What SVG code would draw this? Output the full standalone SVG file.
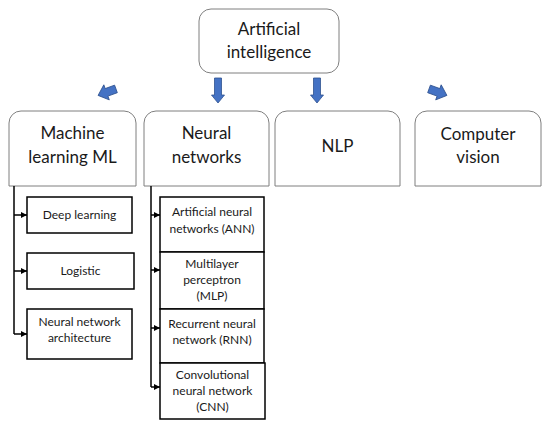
<svg xmlns="http://www.w3.org/2000/svg" width="550" height="426" viewBox="0 0 550 426">
<defs>
<style>
.top{fill:#fff;stroke:#7f7f7f;stroke-width:1}
.sub{fill:#fff;stroke:#000;stroke-width:1.5}
.t1{font-family:Lato,"Liberation Sans",sans-serif;font-size:17px;fill:#1a1a1a;text-anchor:middle}
.t2{font-family:Lato,"Liberation Sans",sans-serif;font-size:12px;fill:#1a1a1a;text-anchor:middle}
.blue{fill:#4472c4;stroke:#2f528f;stroke-width:0.8}
.ln{fill:none;stroke:#000;stroke-width:1.5}
</style>
<marker id="ah" markerWidth="6" markerHeight="6" refX="6" refY="3" orient="auto" markerUnits="userSpaceOnUse">
<path d="M0,0 L6,3 L0,6 Z" fill="#000"/>
</marker>
</defs>
<rect width="550" height="426" fill="#fff"/>

<g id="ai">
<rect class="top" x="199" y="9" width="140" height="64" rx="12"/>
<text class="t1" x="269" y="35">Artificial</text>
<text class="t1" x="269" y="58">intelligence</text>
</g>

<g id="arrows-blue">
<path class="blue" transform="translate(107.5,92) rotate(-20)" d="M-10,0 L-1,-8 L-1,-4 L9,-4 L9,4 L-1,4 L-1,8 Z"/>
<path class="blue" d="M214.5,78 H221.5 V95 H224.5 L218,103 L211.5,95 H214.5 Z"/>
<path class="blue" d="M313.5,78 H320.5 V95 H323.5 L317,103 L310.5,95 H313.5 Z"/>
<path class="blue" transform="translate(437.5,92) rotate(20)" d="M10,0 L1,-8 L1,-4 L-9,-4 L-9,4 L1,4 L1,8 Z"/>
</g>

<g id="ml">
<path class="top" d="M9,186 V123 A12,12 0 0 1 21,111 H124 A12,12 0 0 1 136,123 V186 Z"/>
<text class="t1" x="72.5" y="139">Machine</text>
<text class="t1" x="72.5" y="163">learning ML</text>
</g>
<g id="nn">
<path class="top" d="M144,186 V123 A12,12 0 0 1 156,111 H257 A12,12 0 0 1 269,123 V186 Z"/>
<text class="t1" x="206.5" y="139">Neural</text>
<text class="t1" x="206.5" y="163">networks</text>
</g>
<g id="nlp">
<path class="top" d="M275,186 V123 A12,12 0 0 1 287,111 H388 A12,12 0 0 1 400,123 V186 Z"/>
<text class="t1" x="337.5" y="152">NLP</text>
</g>
<g id="cv">
<path class="top" d="M415,186 V123 A12,12 0 0 1 427,111 H529 A12,12 0 0 1 541,123 V186 Z"/>
<text class="t1" x="478" y="140">Computer</text>
<text class="t1" x="478" y="163">vision</text>
</g>

<g id="deep">
<rect class="sub" x="27" y="197" width="105" height="36"/>
<text class="t2" x="79.5" y="219">Deep learning</text>
</g>
<g id="logistic">
<rect class="sub" x="27" y="253" width="107" height="36"/>
<text class="t2" x="80.5" y="275">Logistic</text>
</g>
<g id="nna">
<rect class="sub" x="27" y="309" width="105" height="50"/>
<text class="t2" x="79.5" y="326">Neural network</text>
<text class="t2" x="79.5" y="342">architecture</text>
</g>

<g id="ann">
<rect class="sub" x="160" y="197" width="104" height="55"/>
<text class="t2" x="212" y="216">Artificial neural</text>
<text class="t2" x="212" y="233">networks (ANN)</text>
</g>
<g id="mlp">
<rect class="sub" x="160" y="252" width="104" height="57"/>
<text class="t2" x="212" y="268">Multilayer</text>
<text class="t2" x="212" y="284">perceptron</text>
<text class="t2" x="212" y="300">(MLP)</text>
</g>
<g id="rnn">
<rect class="sub" x="160" y="309" width="104" height="54"/>
<text class="t2" x="212" y="328">Recurrent neural</text>
<text class="t2" x="212" y="344">network (RNN)</text>
</g>
<g id="cnn">
<rect class="sub" x="160" y="363" width="105" height="56"/>
<text class="t2" x="212.5" y="379">Convolutional</text>
<text class="t2" x="212.5" y="395">neural network</text>
<text class="t2" x="212.5" y="411">(CNN)</text>
</g>

<g id="connectors">
<path class="ln" d="M14,186 V334"/>
<path class="ln" d="M14,215 H27" marker-end="url(#ah)"/>
<path class="ln" d="M14,271 H27" marker-end="url(#ah)"/>
<path class="ln" d="M14,334 H27" marker-end="url(#ah)"/>
<path class="ln" d="M151,186 V387"/>
<path class="ln" d="M151,215 H160" marker-end="url(#ah)"/>
<path class="ln" d="M151,270 H160" marker-end="url(#ah)"/>
<path class="ln" d="M151,328 H160" marker-end="url(#ah)"/>
<path class="ln" d="M151,387 H160" marker-end="url(#ah)"/>
</g>
</svg>
